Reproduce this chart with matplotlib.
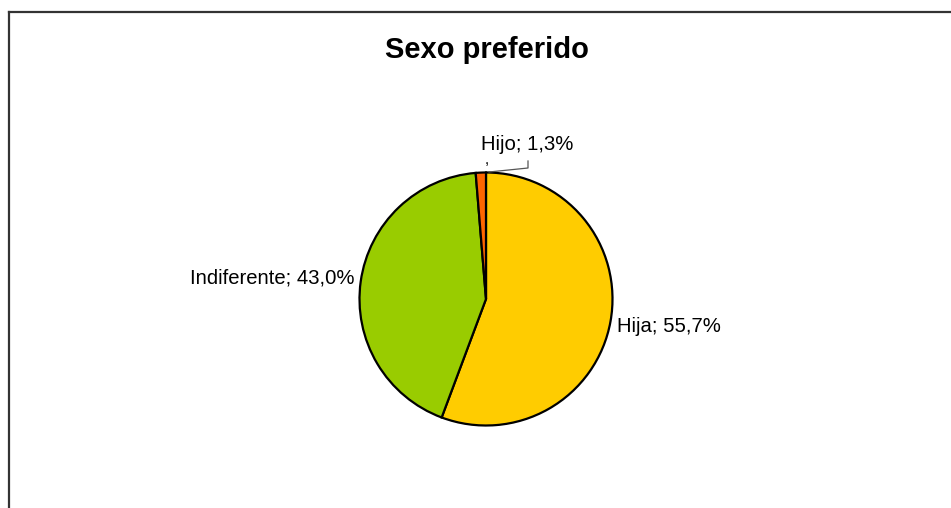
import matplotlib.pyplot as plt
from matplotlib.lines import Line2D

plt.rcParams['font.family'] = ['Liberation Sans', 'DejaVu Sans']

categories = ['Hija', 'Indiferente', 'Hijo']
values = [55.7, 43.0, 1.3]
colors = ['#FFCC00', '#99CC00', '#FF6600']
title = 'Sexo preferido'

W, H = 951, 508
fig = plt.figure(figsize=(W / 100, H / 100), dpi=100)
ax = fig.add_axes([0, 0, 1, 1])

# pie in pixel coords (y up)
cx, cy, r = 486, H - 299, 126.5
ax.pie(values, colors=colors, startangle=90, counterclock=False,
       center=(cx, cy), radius=r, frame=True,
       wedgeprops=dict(edgecolor='black', linewidth=1.6))
ax.set_xlim(0, W)
ax.set_ylim(0, H)
ax.set_aspect('equal')
ax.axis('off')

def lab(i):
    return '%s; %s%%' % (categories[i], ('%.1f' % values[i]).replace('.', ','))

fs = 14.6
ax.text(617, H - 327, lab(0), fontsize=fs, ha='left', va='center')
ax.text(355, H - 278, lab(1), fontsize=fs, ha='right', va='center')
ax.text(481, H - 144, lab(2), fontsize=fs, ha='left', va='center')
ax.text(485, H - 160, ',', fontsize=11, ha='left', va='center')
# leader line for small slice
ax.plot([489, 528, 528], [H - 172, H - 168, H - 161], color='#555555', lw=0.9)

ax.text(487, H - 50, title, fontsize=21, fontweight='bold', ha='center', va='center')

# chart area border (top and left visible)
fig.add_artist(Line2D([8.5 / W, 8.5 / W], [0, 1 - 11.5 / H], color='#333333', lw=1.6))
fig.add_artist(Line2D([8.5 / W, 1], [1 - 11.5 / H, 1 - 11.5 / H], color='#333333', lw=1.6))

fig.savefig('out.png', dpi=100, facecolor='white')
